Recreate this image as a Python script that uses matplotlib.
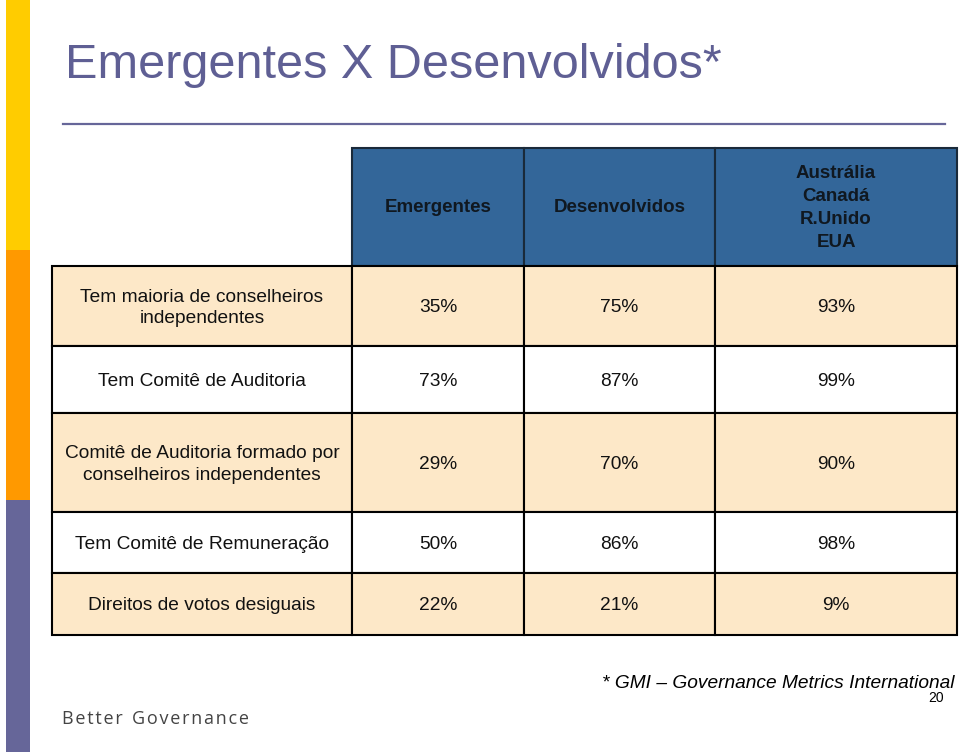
import matplotlib.pyplot as plt
from matplotlib.patches import Rectangle

plt.rcParams["font.family"] = ["Liberation Sans", "DejaVu Sans"]

# table data
col_headers = ["Emergentes", "Desenvolvidos", "Austrália\nCanadá\nR.Unido\nEUA"]
row_labels = [
    "Tem maioria de conselheiros\nindependentes",
    "Tem Comitê de Auditoria",
    "Comitê de Auditoria formado por\nconselheiros independentes",
    "Tem Comitê de Remuneração",
    "Direitos de votos desiguais",
]
emergentes = ["35%", "73%", "29%", "50%", "22%"]
desenvolvidos = ["75%", "87%", "70%", "86%", "21%"]
aus_can_ru_eua = ["93%", "99%", "90%", "98%", "9%"]

fig = plt.figure(figsize=(9.6, 7.52), dpi=100)
ax = fig.add_axes([0, 0, 1, 1])
ax.set_xlim(0, 960)
ax.set_ylim(752, 0)
ax.axis("off")

# side bar
ax.add_patch(Rectangle((6, 0), 24, 250, color="#FFCC00", lw=0))
ax.add_patch(Rectangle((6, 250), 24, 250, color="#FF9900", lw=0))
ax.add_patch(Rectangle((6, 500), 24, 252, color="#666699", lw=0))

# title
ax.text(65, 66, "Emergentes X Desenvolvidos*", fontsize=35, color="#5F5F94",
        ha="left", va="center")
ax.plot([63, 945], [124, 124], color="#666699", lw=1.6)

col_x = [52, 352, 524, 715, 957]
header_top, header_bot = 148, 266
row_y = [266, 346, 413, 512, 573, 635]
row_fill = ["#FDE8C8", "white", "#FDE8C8", "white", "#FDE8C8"]

# header cells
for j, h in enumerate(col_headers):
    x0, x1 = col_x[j + 1], col_x[j + 2]
    ax.add_patch(Rectangle((x0, header_top), x1 - x0, header_bot - header_top,
                           facecolor="#336699", edgecolor="#1a2a3a", lw=1.5))
    ax.text((x0 + x1) / 2, 208, h, ha="center", va="center", fontsize=13.5,
            fontweight="bold", color="#101820", linespacing=1.45)

values = [emergentes, desenvolvidos, aus_can_ru_eua]
for i, lab in enumerate(row_labels):
    y0, y1 = row_y[i], row_y[i + 1]
    yc = (y0 + y1) / 2 + 2
    for j in range(4):
        x0, x1 = col_x[j], col_x[j + 1]
        ax.add_patch(Rectangle((x0, y0), x1 - x0, y1 - y0,
                               facecolor=row_fill[i], edgecolor="black", lw=1.5))
    ax.text((col_x[0] + col_x[1]) / 2, yc, lab, ha="center", va="center",
            fontsize=13.8, color="#111111", linespacing=1.35)
    for j in range(3):
        ax.text((col_x[j + 1] + col_x[j + 2]) / 2, yc, values[j][i],
                ha="center", va="center", fontsize=13.8, color="#111111")

# footer
ax.text(955, 684, "* GMI – Governance Metrics International", ha="right",
        va="center", fontsize=13.8, style="italic", color="black")
ax.text(944, 698, "20", ha="right", va="center", fontsize=10, color="black")
ax.text(62, 719, "\u200a".join("Better") + "  " + "\u200a".join("Governance"),
        ha="left", va="center", fontsize=13, color="#444444",
        family=["Open Sans", "DejaVu Sans"])

fig.savefig("out.png", dpi=100)
